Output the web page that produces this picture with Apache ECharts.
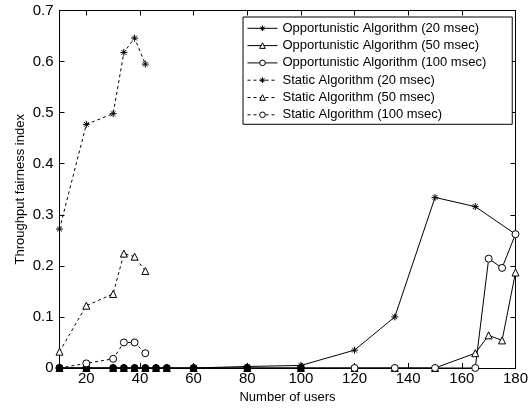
<!DOCTYPE html>
<html>
<head>
<meta charset="utf-8">
<script src="https://cdn.jsdelivr.net/npm/echarts@6/dist/echarts.min.js"></script>
<style>
html,body{margin:0;padding:0;background:#fff;}
#chart{width:531px;height:409px;}
</style>
</head>
<body>
<div id="chart"></div>
<script>
// ---- data ----
const seriesNames = [
  'Opportunistic Algorithm (20 msec)',
  'Opportunistic Algorithm (50 msec)',
  'Opportunistic Algorithm (100 msec)',
  'Static Algorithm (20 msec)',
  'Static Algorithm (50 msec)',
  'Static Algorithm (100 msec)'
];
const xOpp20 = [10,20,30,34,38,42,46,50,60,80,100,120,135,150,165,180];
const yOpp20 = [0,0,0,0,0,0,0,0,0,0.003,0.005,0.035,0.100,0.334,0.316,0.262];
const xOpp50 = [10,20,30,34,38,42,46,50,60,80,100,120,135,150,165,170,175,180];
const yOpp50 = [0,0,0,0,0,0,0,0,0,0,0,0,0,0,0.029,0.064,0.054,0.187];
const xOpp100 = [10,20,30,34,38,42,46,50,60,80,100,120,135,150,165,170,175,180];
const yOpp100 = [0,0,0,0,0,0,0,0,0,0,0,0,0,0,0,0.214,0.196,0.262];
const xStatic = [10,20,30,34,38,42];
const yStatic20 = [0.272,0.477,0.498,0.618,0.646,0.595];
const yStatic50 = [0.032,0.122,0.145,0.224,0.218,0.190];
const yStatic100 = [0.000,0.009,0.018,0.050,0.050,0.029];
const xTicks = [20,40,60,80,100,120,140,160,180];

const pairs = (xs, ys) => xs.map((x, i) => [x, ys[i]]);
const ASTER = 'path://M5,0L5,10M0,5L10,5M1.6,1.6L8.4,8.4M8.4,1.6L1.6,8.4';
const FONT = '"Liberation Sans", Arial, sans-serif';
const NARROW = '"Liberation Sans Narrow", "Arial Narrow", "Liberation Sans", sans-serif';
const symbols = [ASTER, 'triangle', 'circle', ASTER, 'triangle', 'circle'];

function mk(i, data, dashed) {
  const symbol = symbols[i];
  return {
    name: seriesNames[i],
    type: 'line',
    data: data,
    symbol: symbol,
    symbolSize: 7,
    showAllSymbol: true,
    animation: false,
    xAxisIndex: 0, yAxisIndex: 0,
    lineStyle: { color: '#000', width: 1, type: dashed ? [3, 3] : 'solid' },
    itemStyle: {
      // overlapping markers on the zero line render as solid blobs in the original
      color: symbol === ASTER ? '#000' :
        (p => (p && p.value && p.value[1] === 0 && p.value[0] <= 100) ? '#000' : '#fff'),
      borderColor: '#000', borderWidth: 1
    },
    emphasis: { disabled: true }
  };
}

const chart = echarts.init(document.getElementById('chart'), null, { renderer: 'canvas' });
const tickCommon = { show: true, inside: true, length: 5, lineStyle: { color: '#000', width: 1 } };
chart.setOption({
  backgroundColor: '#fff',
  animation: false,
  textStyle: { fontFamily: FONT },
  grid: { left: 59.5, right: 15.5, top: 10.5, bottom: 40.5, show: false },
  legend: {
    orient: 'vertical',
    left: 243, top: 17,
    padding: [4.8, 26, 3, 4],
    itemWidth: 30, itemHeight: 7, itemGap: 4.3,
    backgroundColor: '#fff',
    borderColor: '#000', borderWidth: 1,
    borderRadius: 0,
    lineStyle: { width: 1, color: '#000' },
    textStyle: { fontFamily: FONT, fontSize: 13, color: '#000' },
    data: seriesNames.map((n, i) => ({
      name: n,
      itemStyle: { color: symbols[i] === ASTER ? '#000' : '#fff', borderColor: '#000', borderWidth: 1 }
    }))
  },
  xAxis: [{
    type: 'value', min: 10, max: 180,
    name: 'Number of users', nameLocation: 'middle', nameGap: 23, nameMoveOverlap: false,
    nameTextStyle: { fontFamily: FONT, fontSize: 13, color: '#000' },
    axisLine: { show: true, onZero: false, lineStyle: { color: '#000', width: 1 } },
    axisTick: Object.assign({ customValues: xTicks }, tickCommon),
    axisLabel: { customValues: xTicks, fontFamily: NARROW, fontSize: 15, color: '#000', margin: 3 },
    splitLine: { show: false }
  }, {
    type: 'value', min: 10, max: 180, position: 'top',
    axisLine: { show: true, onZero: false, lineStyle: { color: '#000', width: 1 } },
    axisTick: Object.assign({ customValues: xTicks }, tickCommon),
    axisLabel: { show: false },
    splitLine: { show: false }
  }],
  yAxis: [{
    type: 'value', min: 0, max: 0.7, interval: 0.1,
    name: 'Throughput fairness index', nameLocation: 'middle', nameGap: 33, nameMoveOverlap: false,
    nameTextStyle: { fontFamily: FONT, fontSize: 13, color: '#000' },
    axisLine: { show: true, onZero: false, lineStyle: { color: '#000', width: 1 } },
    axisTick: tickCommon,
    axisLabel: { fontFamily: NARROW, fontSize: 15, color: '#000', margin: 6,
      formatter: v => String(Math.round(v * 10) / 10) },
    splitLine: { show: false }
  }, {
    type: 'value', min: 0, max: 0.7, interval: 0.1, position: 'right',
    axisLine: { show: true, onZero: false, lineStyle: { color: '#000', width: 1 } },
    axisTick: tickCommon,
    axisLabel: { show: false },
    splitLine: { show: false }
  }],
  series: [
    mk(0, pairs(xOpp20, yOpp20), false),
    mk(1, pairs(xOpp50, yOpp50), false),
    mk(2, pairs(xOpp100, yOpp100), false),
    mk(3, pairs(xStatic, yStatic20), true),
    mk(4, pairs(xStatic, yStatic50), true),
    mk(5, pairs(xStatic, yStatic100), true)
  ]
});
</script>
</body>
</html>
